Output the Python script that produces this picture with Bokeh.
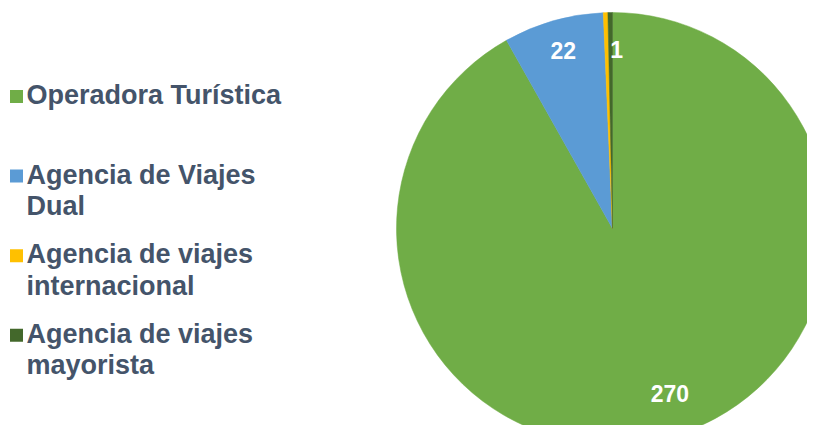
import textwrap
import numpy as np
from bokeh.plotting import figure
from bokeh.models import ColumnDataSource, Range1d
from bokeh.core.properties import value
from bokeh.embed import file_html
from bokeh.resources import INLINE

# ---- data ----
categories = ["Operadora Turística", "Agencia de Viajes Dual",
              "Agencia de viajes internacional", "Agencia de viajes mayorista"]
counts = [270, 22, 1, 1]
colors = ["#70AD47", "#5B9BD5", "#FFC000", "#43682B"]
show_label = [True, True, False, True]

# ---- figure in pixel coordinates ----
W, H = 807, 425
p = figure(width=W, height=H, x_range=Range1d(0, W), y_range=Range1d(0, H),
           output_backend="svg", toolbar_location=None, min_border=0)
p.axis.visible = False
p.grid.visible = False
p.outline_line_color = None
p.background_fill_color = "white"
p.border_fill_color = "white"

# ---- pie ----
cx, cy, R = 612, H - 228, 216
total = float(sum(counts))
frac = np.array(counts) / total
cum = np.concatenate([[0.0], np.cumsum(frac)])
start = np.pi / 2 - 2 * np.pi * cum[:-1]
end = np.pi / 2 - 2 * np.pi * cum[1:]
mid = (start + end) / 2

pie_src = ColumnDataSource(dict(start=start, end=end, color=colors, cat=categories))
p.wedge(x=cx, y=cy, radius=R, start_angle="start", end_angle="end",
        direction="clock", fill_color="color", line_color="color",
        line_width=0.5, source=pie_src)

lf = 0.83
lab_dx = [12, 0, 0, 6]
lab_dy = [8, 6, 0, 0]
idx = [i for i, s in enumerate(show_label) if s]
lab_x = [cx + R * lf * np.cos(mid[i]) + lab_dx[i] for i in idx]
lab_y = [cy + R * lf * np.sin(mid[i]) + lab_dy[i] for i in idx]
lab_t = [str(counts[i]) for i in idx]
p.text(x=lab_x, y=lab_y, text=lab_t,
       text_font=value("Liberation Sans"), text_font_style="bold",
       text_font_size="23px", text_color="white",
       text_align="center", text_baseline="middle")

# ---- legend ----
entry_top = H - 96     # y of the first marker centre
entry_step = 79.6
line_step = 31.5
sq_x, txt_x = 16, 26
sq_y, tx, ty, tt = [], [], [], []
for i, cat in enumerate(categories):
    yc = entry_top - i * entry_step
    sq_y.append(yc)
    for j, line in enumerate(textwrap.wrap(cat, 19)):
        tx.append(txt_x)
        ty.append(yc + 1.5 - j * line_step)
        tt.append(line)
p.rect(x=sq_x, y=sq_y, width=13, height=13, fill_color=colors, line_color=None)
p.text(x=tx, y=ty, text=tt, text_font=value("Liberation Sans"),
       text_font_style="bold", text_font_size="27px", text_color="#44546A",
       text_align="left", text_baseline="middle")

open("out.html", "w").write(file_html(p, INLINE))
